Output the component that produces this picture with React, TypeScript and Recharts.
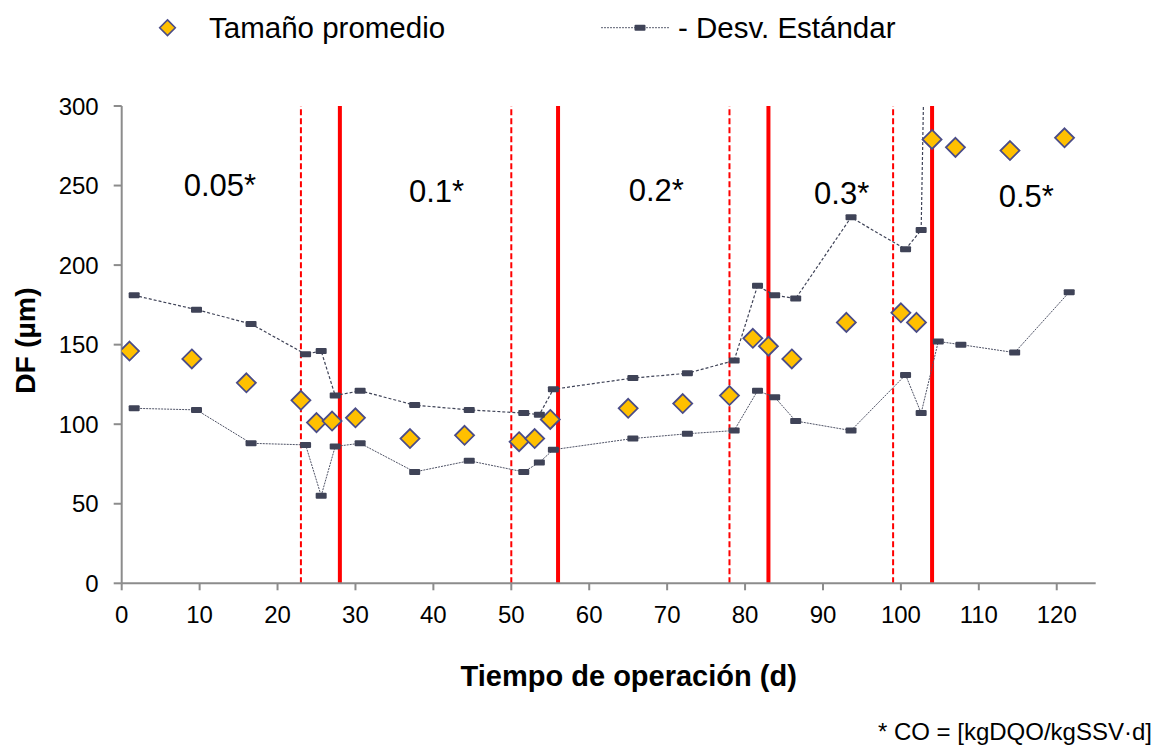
import React from 'react';
import {
  ComposedChart,
  Line,
  Scatter,
  XAxis,
  YAxis,
  ReferenceLine,
  ReferenceDot,
  Legend,
} from 'recharts';

// Operating days of each floc-size measurement and the mean diameter (µm)
const DAYS = [1, 9, 16, 23, 25, 27, 30, 37, 44, 51, 53, 55, 65, 72, 78, 81, 83, 86, 93, 100, 102, 104, 107, 114, 121];
const MEAN_SIZE = [146, 141, 126, 115, 101, 102, 104, 91, 93, 89, 91, 103, 110, 113, 118, 154, 149, 141, 164, 170, 164, 279, 274, 272, 280];

// Standard-deviation envelope (mean ± SD), plotted slightly after each day
const SD_DAYS = [1.6, 9.6, 16.6, 23.6, 25.6, 27.4, 30.6, 37.6, 44.6, 51.6, 53.6, 55.4, 65.6, 72.6, 78.6, 81.6, 83.8, 86.5, 93.6, 100.6, 102.6, 104.8, 107.7, 114.6, 121.6];
const UPPER_SD = [181, 172, 163, 144, 146, 118, 121, 112, 109, 107, 106, 122, 129, 132, 140, 187, 181, 179, 230, 210, 222, 820, null, null, null];
const LOWER_SD = [110, 109, 88, 87, 55, 86, 88, 70, 77, 70, 76, 84, 91, 94, 96, 121, 117, 102, 96, 131, 107, 152, 150, 145, 183];

// Organic-load stages: start of transition (dashed) and new load applied (solid)
const TRANSITION_DAYS = [23, 50, 78, 99];
const LOAD_CHANGE_DAYS = [28, 56, 83, 104];
const LOAD_LABELS = ['0.05*', '0.1*', '0.2*', '0.3*', '0.5*'];
const LOAD_LABEL_DAY = [12.6, 40.4, 68.6, 92.4, 116.1];
const LOAD_LABEL_DF = [250.5, 246.6, 247, 245.2, 243.6];

const X_TICKS = [0, 10, 20, 30, 40, 50, 60, 70, 80, 90, 100, 110, 120];
const Y_TICKS = [0, 50, 100, 150, 200, 250, 300];

const FONT = '"Liberation Sans", Arial, Helvetica, sans-serif';
const DIAMOND_FILL = '#FFC000';
const DIAMOND_STROKE = '#4a4c88';
const SD_COLOR = '#3f4357';
const AXIS_GREY = '#8c8c8c';
const W = 1146;
const H = 738;

const meanData = DAYS.map((x, i) => ({ x, y: MEAN_SIZE[i] }));
const upperData = SD_DAYS.map((x, i) => ({ x, y: UPPER_SD[i] }));
const lowerData = SD_DAYS.map((x, i) => ({ x, y: LOWER_SD[i] }));

function diamondPoints(cx: number, cy: number, h: number) {
  return `${cx},${cy - h} ${cx + h},${cy} ${cx},${cy + h} ${cx - h},${cy}`;
}

function Diamond(props: any) {
  const { cx, cy } = props;
  if (cx == null || cy == null) return null;
  return (
    <polygon
      points={diamondPoints(cx, cy, 9.5)}
      fill={DIAMOND_FILL}
      stroke={DIAMOND_STROKE}
      strokeWidth={1.8}
    />
  );
}

function sdMarker(prefix: string) {
  return (props: any) => {
    const { cx, cy, index } = props;
    if (cx == null || cy == null) return <g key={`${prefix}-${index}`} />;
    return (
      <rect
        key={`${prefix}-${index}`}
        x={cx - 5.5}
        y={cy - 3}
        width={11}
        height={6}
        rx={1}
        fill={SD_COLOR}
      />
    );
  };
}

function LegendAndNote() {
  return (
    <svg width={W} height={H} style={{ display: 'block', overflow: 'visible' }}>
      <g fontFamily={FONT} fill="#000">
        <polygon
          points={diamondPoints(159.5, 19.7, 7.8)}
          fill={DIAMOND_FILL}
          stroke={DIAMOND_STROKE}
          strokeWidth={1.6}
        />
        <text x={201} y={30} fontSize={29.5}>
          Tamaño promedio
        </text>
        <line x1={593} x2={661} y1={19.7} y2={19.7} stroke="#5b5f70" strokeWidth={1} strokeDasharray="2 1" />
        <rect x={626.5} y={16.7} width={11} height={6} rx={1} fill={SD_COLOR} />
        <text x={670} y={30} fontSize={29.5}>
          - Desv. Estándar
        </text>
        <text x={1144} y={732} fontSize={24} textAnchor="end">
          * CO = [kgDQO/kgSSV·d]
        </text>
      </g>
    </svg>
  );
}

function XTitle(props: any) {
  const { x, width } = props.viewBox;
  return (
    <text
      x={x + width / 2 + 20}
      y={677.7}
      textAnchor="middle"
      fontSize={29}
      fontWeight="bold"
      fontFamily={FONT}
      fill="#000"
    >
      Tiempo de operación (d)
    </text>
  );
}

function YTitle(props: any) {
  const { x, y, height } = props.viewBox;
  const cx = x - 37;
  const cy = y + height / 2 - 4;
  return (
    <text
      x={cx}
      y={cy}
      transform={`rotate(-90 ${cx} ${cy})`}
      textAnchor="middle"
      dominantBaseline="central"
      fontSize={28.5}
      fontWeight="bold"
      fontFamily={FONT}
      fill="#000"
    >
      DF (µm)
    </text>
  );
}

export default function App() {
  return (
    <div style={{ width: W, height: H, fontFamily: FONT }}>
      <ComposedChart
        width={W}
        height={H}
        margin={{ top: 98, right: 58.3, bottom: 132.7, left: 53.7 }}
        style={{ fontFamily: FONT }}
      >
        <XAxis
          xAxisId={0}
          dataKey="x"
          type="number"
          domain={[0, 125]}
          ticks={X_TICKS}
          allowDataOverflow
          height={30}
          tickSize={7}
          tickMargin={16}
          axisLine={{ stroke: AXIS_GREY, strokeWidth: 2 }}
          tickLine={{ stroke: AXIS_GREY, strokeWidth: 2 }}
          tick={{ fill: '#000', fontSize: 24, fontFamily: FONT }}
          label={{ content: XTitle }}
        />
        <XAxis
          xAxisId="top"
          dataKey="x"
          type="number"
          orientation="top"
          domain={[0, 125]}
          allowDataOverflow
          height={0}
          tick={false}
          tickLine={false}
          axisLine={{ stroke: '#a0a0a0', strokeWidth: 2 }}
        />
        <YAxis
          yAxisId={0}
          type="number"
          domain={[0, 300]}
          ticks={Y_TICKS}
          allowDataOverflow
          width={60}
          tickSize={8}
          tickMargin={15}
          axisLine={{ stroke: AXIS_GREY, strokeWidth: 2 }}
          tickLine={{ stroke: AXIS_GREY, strokeWidth: 2 }}
          tick={{ fill: '#000', fontSize: 24, fontFamily: FONT }}
          label={{ content: YTitle }}
        />
        <YAxis
          yAxisId="right"
          orientation="right"
          type="number"
          domain={[0, 300]}
          allowDataOverflow
          width={0}
          tick={false}
          tickLine={false}
          axisLine={{ stroke: '#a0a0a0', strokeWidth: 2 }}
        />

        {TRANSITION_DAYS.map((d) => (
          <ReferenceLine key={`t-${d}`} x={d} stroke="#FF0000" strokeWidth={2} strokeDasharray="6 3" />
        ))}
        {LOAD_CHANGE_DAYS.map((d) => (
          <ReferenceLine key={`c-${d}`} x={d} stroke="#FF0000" strokeWidth={4} />
        ))}

        {LOAD_LABELS.map((t, i) => (
          <ReferenceDot
            key={t}
            x={LOAD_LABEL_DAY[i]}
            y={LOAD_LABEL_DF[i]}
            r={0}
            fill="none"
            stroke="none"
            label={{ value: t, position: 'center', fontSize: 31, fill: '#000', fontFamily: FONT }}
          />
        ))}

        <Line
          data={upperData}
          dataKey="y"
          stroke={SD_COLOR}
          strokeWidth={1.2}
          strokeDasharray="3 2"
          dot={sdMarker('u')}
          activeDot={false}
          legendType="none"
          isAnimationActive={false}
        />
        <Line
          data={lowerData}
          dataKey="y"
          stroke="#4f5366"
          strokeWidth={1}
          strokeDasharray="2 1"
          dot={sdMarker('l')}
          activeDot={false}
          legendType="none"
          isAnimationActive={false}
        />
        <Scatter data={meanData} dataKey="y" shape={Diamond} legendType="none" isAnimationActive={false} />

        <Legend
          layout="vertical"
          align="center"
          verticalAlign="middle"
          wrapperStyle={{ top: 0, left: 0, width: W, height: H, pointerEvents: 'none' }}
          content={() => <LegendAndNote />}
        />
      </ComposedChart>
    </div>
  );
}
